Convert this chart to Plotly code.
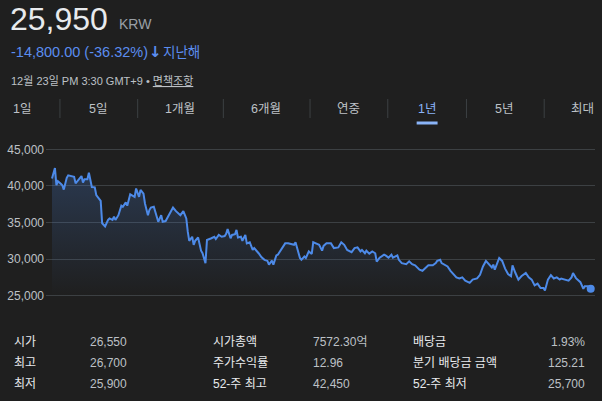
import pandas as pd
import plotly.graph_objects as go

# ---------------- data ----------------
start_date = "2021-12-23"
day_offsets = [0, 2, 3, 4, 6, 7, 8, 10, 11, 13, 15, 16, 18, 20, 21, 22, 24, 25, 27, 29,
               30, 32, 33, 34, 36, 38, 39, 41, 42, 43, 45, 47, 48, 50, 51, 53, 55, 56, 57, 59,
               60, 62, 63, 65, 66, 67, 69, 70, 72, 74, 75, 77, 79, 80, 82, 84, 86, 87, 89, 91,
               92, 93, 95, 96, 97, 99, 101, 102, 104, 105, 108, 110, 111, 113, 115, 117, 118, 119, 121, 122,
               124, 125, 126, 128, 129, 131, 132, 134, 136, 137, 140, 142, 144, 146, 147, 149, 150, 152, 153, 155,
               158, 160, 162, 164, 165, 168, 169, 171, 172, 174, 176, 177, 180, 181, 183, 184, 186, 189, 191, 194,
               196, 198, 200, 203, 205, 207, 209, 210, 212, 213, 215, 217, 219, 220, 222, 225, 226, 228, 230, 231,
               234, 235, 237, 240, 242, 244, 246, 249, 251, 253, 255, 258, 260, 261, 263, 264, 266, 268, 270, 272,
               274, 276, 278, 280, 283, 285, 288, 290, 292, 294, 296, 298, 299, 300, 303, 305, 307, 309, 311, 312,
               314, 316, 318, 321, 323, 325, 327, 329, 331, 333, 334, 336, 338, 340, 342, 344, 345, 348, 350, 352,
               353, 355, 357, 358, 360, 361, 363, 365]
prices = [41000, 42450, 40100, 40650, 40300, 40100, 39500, 41100, 41450, 41350, 41250, 40350, 40900, 41350, 40450, 40900, 40900, 41800, 39850, 39800,
          38750, 38300, 37950, 34900, 34450, 35350, 35550, 35350, 35800, 35350, 36000, 37300, 37150, 37750, 37300, 38850, 38650, 38500, 39650, 38500,
          39450, 38950, 37600, 36000, 36700, 37050, 37150, 36450, 35100, 36000, 35100, 35200, 36000, 36400, 37050, 36550, 36250, 36000, 36550, 35550,
          33750, 32500, 33050, 31950, 32500, 32950, 31150, 30800, 29450, 32600, 32850, 33050, 32750, 33300, 33050, 33150, 33450, 34100, 32850, 33300,
          33400, 34000, 32950, 33050, 32500, 33300, 32150, 32300, 31250, 31500, 30800, 30250, 29900, 29750, 29250, 29800, 29250, 30500, 30600, 31250,
          32150, 32150, 32050, 31950, 32300, 30150, 29900, 30350, 30150, 31050, 30700, 32300, 32050, 31950, 31150, 31800, 32150, 32150, 31500, 31600,
          32300, 31950, 31250, 30950, 31500, 31600, 31050, 31250, 30800, 31150, 30750, 31050, 30800, 29650, 30200, 30600, 30500, 30200, 30600, 30200,
          30500, 29900, 29450, 29300, 29700, 29300, 29150, 28550, 28400, 28750, 29150, 29150, 29450, 29750, 29900, 29450, 29250, 29000, 28400, 27950,
          27500, 27350, 27500, 27050, 26750, 27200, 27350, 27850, 29000, 29750, 29250, 28850, 29250, 28550, 30150, 29750, 28700, 27950, 27650, 29150,
          28100, 27200, 27650, 28100, 27500, 27200, 26400, 26650, 26050, 26050, 25700, 27200, 27800, 27350, 27500, 27200, 27350, 27200, 27050, 27500,
          28100, 27400, 26950, 26850, 25950, 26300, 26300, 25950]
y_ticks = [25000, 30000, 35000, 40000, 45000]

header_price = "25,950"
header_currency = "KRW"
header_change = "-14,800.00 (-36.32%)"
header_period = "지난해"
header_time = "12월 23일 PM 3:30 GMT+9 • "
header_disclaimer = "면책조항"
tabs = ["1일", "5일", "1개월", "6개월", "연중", "1년", "5년", "최대"]
active_tab = "1년"
stat_labels_1 = ["시가", "최고", "최저"]
stat_values_1 = ["26,550", "26,700", "25,900"]
stat_labels_2 = ["시가총액", "주가수익률", "52-주 최고"]
stat_values_2 = ["7572.30억", "12.96", "42,450"]
stat_labels_3 = ["배당금", "분기 배당금 금액", "52-주 최저"]
stat_values_3 = ["1.93%", "125.21", "25,700"]

# ---------------- style / layout ----------------
W, H = 602, 401
ML, MR, MT, MB = 44, 7, 142, 98
BG = "#1f1f1f"
LINE = "#4d8ae8"
FONT = "Liberation Sans, Arial, Noto Sans CJK KR, sans-serif"


def px(x):
    return (x - ML) / (W - ML - MR)


def py(y):
    return (H - MB - y) / (H - MT - MB)


start = pd.Timestamp(start_date)
dates = start + pd.to_timedelta(day_offsets, unit="D")
x_lo = start - pd.Timedelta(days=4.05)
x_hi = start + pd.Timedelta(days=367.9)

fig = go.Figure()
fig.add_trace(go.Scatter(
    x=dates, y=prices, mode="lines",
    line=dict(color=LINE, width=2),
    fill="tozeroy",
    fillgradient=dict(type="vertical", start=25000, stop=42000,
                      colorscale=[[0, "rgba(77,138,232,0)"], [1, "rgba(77,138,232,0.24)"]]),
    hoverinfo="skip", showlegend=False,
))
fig.add_trace(go.Scatter(
    x=[dates[-1]], y=[prices[-1]], mode="markers",
    marker=dict(color=LINE, size=8),
    hoverinfo="skip", showlegend=False,
))

ann = []


def text(x, y, s, size, color, anchor="left", family=FONT):
    ann.append(dict(x=px(x), y=py(y), xref="paper", yref="paper", text=s,
                    showarrow=False, xanchor=anchor, yanchor="middle",
                    font=dict(family=family, size=size, color=color)))


# header
text(6, 19, header_price, 32, "#e8eaed")
text(115, 24, header_currency, 14, "#9aa0a6")
text(7, 52, header_change, 14.5, "#5b8def")
text(145, 52, "<b>↓</b>", 15, "#5b8def", family="DejaVu Sans")
text(159, 52, header_period, 13.5, "#5b8def")
text(7, 80, header_time + "<u>" + header_disclaimer + "</u>", 11, "#bdc1c6")

# tabs
tab_centers = [19.5, 96, 178, 265, 347.5, 426, 503.5, 582.5]
for t, cx in zip(tabs, tab_centers):
    text(cx, 109, t, 12.5, "#8ab4f8" if t == active_tab else "#bdc1c6", anchor="center")

shapes = []
for dx in [58, 136, 222, 309, 387, 466, 544]:
    shapes.append(dict(type="line", xref="paper", yref="paper",
                       x0=px(dx), x1=px(dx), y0=py(99), y1=py(118),
                       line=dict(color="#3c4043", width=1)))
shapes.append(dict(type="rect", xref="paper", yref="paper",
                   x0=px(416), x1=px(437), y0=py(124.5), y1=py(121.5),
                   fillcolor="#8ab4f8", line=dict(width=0)))

# stats
row_y = [342, 363, 384]
for i, yy in enumerate(row_y):
    text(10, yy, stat_labels_1[i], 12, "#e8eaed")
    text(86, yy, stat_values_1[i], 12, "#bdc1c6")
    text(210, yy, stat_labels_2[i], 12, "#e8eaed")
    text(310, yy, stat_values_2[i], 12, "#bdc1c6")
    text(410, yy, stat_labels_3[i], 12, "#e8eaed")
    text(587, yy, stat_values_3[i], 12, "#bdc1c6", anchor="right")

fig.update_layout(
    width=W, height=H,
    margin=dict(l=ML, r=MR, t=MT, b=MB, pad=0),
    paper_bgcolor=BG, plot_bgcolor=BG,
    font=dict(family=FONT),
    annotations=ann, shapes=shapes,
    xaxis=dict(range=[x_lo, x_hi], showgrid=False, zeroline=False,
               showticklabels=False, showline=False, ticks=""),
    yaxis=dict(range=[24000, 46000], tickvals=y_ticks, tickformat=",",
               showgrid=True, gridcolor="#3c4043", gridwidth=1,
               zeroline=False, showline=False, ticks="",
               ticklabelstandoff=1,
               tickfont=dict(family=FONT, size=12, color="#bdc1c6")),
    hovermode=False,
)

fig.write_html(
    "out.html",
    config={"displayModeBar": False, "staticPlot": True},
    post_script="document.body.style.margin='0px';document.body.style.background='#1f1f1f';",
)
